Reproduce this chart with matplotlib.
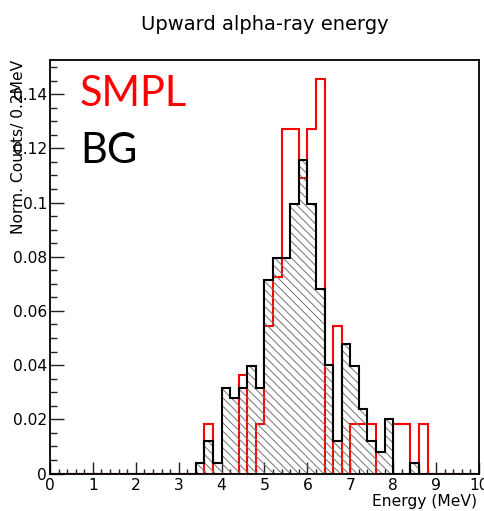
import numpy as np
import matplotlib
matplotlib.use("Agg")
import matplotlib.pyplot as plt
from matplotlib.ticker import MultipleLocator, FixedLocator, FixedFormatter

plt.rcParams['font.family'] = ['DejaVu Sans']
plt.rcParams['hatch.linewidth'] = 0.7

# ---- data: normalized counts per 0.2 MeV bin, 0-10 MeV (50 bins) ----
bin_edges = np.linspace(0.0, 10.0, 51)

smpl_values = [0, 0, 0, 0, 0, 0, 0, 0, 0, 0,
               0, 0, 0, 0, 0, 0, 0, 0, 0.0182, 0,
               0, 0, 0.0364, 0, 0.0182, 0.0545, 0.0727, 0.1273, 0.1273, 0.1091,
               0.1273, 0.1455, 0, 0.0545, 0, 0.0182, 0.0182, 0.0182, 0, 0,
               0.0182, 0.0182, 0, 0.0182, 0, 0, 0, 0, 0, 0]

bg_values = [0, 0, 0, 0, 0, 0, 0, 0, 0, 0,
             0, 0, 0, 0, 0, 0, 0, 0.004, 0.012, 0.004,
             0.0316, 0.0277, 0.0316, 0.0395, 0.0316, 0.0715, 0.0795, 0.0795, 0.0993, 0.1157,
             0.0993, 0.068, 0.040, 0.012, 0.0478, 0.0398, 0.0239, 0.012, 0.008, 0.020,
             0, 0, 0.004, 0, 0, 0, 0, 0, 0, 0]

x_major = [0, 1, 2, 3, 4, 5, 6, 7, 8, 9, 10]
x_labels = ["0", "1", "2", "3", "4", "5", "6", "7", "8", "9", "10"]
y_major = [0, 0.02, 0.04, 0.06, 0.08, 0.10, 0.12, 0.14]
y_labels = ["0", "0.02", "0.04", "0.06", "0.08", "0.1", "0.12", "0.14"]

W, H = 485, 511
fig = plt.figure(figsize=(W / 100, H / 100), dpi=100)
ax = fig.add_axes([50 / W, 1 - 473.5 / H, 429 / W, 413.5 / H])

# SMPL (drawn first, defines range)
ax.stairs(smpl_values, bin_edges, baseline=0, color="red", linewidth=1.5, zorder=2)
# BG hatched
ax.stairs(bg_values, bin_edges, baseline=0, fill=True, facecolor="none",
          edgecolor="0.45", hatch="\\\\\\\\", linewidth=0, zorder=3)
ax.stairs(bg_values, bin_edges, baseline=0, color="black", linewidth=1.5, zorder=4)

ax.set_xlim(0, 10)
ax.set_ylim(0, 0.1526)

ax.xaxis.set_major_locator(FixedLocator(x_major))
ax.xaxis.set_major_formatter(FixedFormatter(x_labels))
ax.xaxis.set_minor_locator(MultipleLocator(0.2))
ax.yaxis.set_major_locator(FixedLocator(y_major))
ax.yaxis.set_major_formatter(FixedFormatter(y_labels))
ax.yaxis.set_minor_locator(MultipleLocator(0.005))

ax.tick_params(axis="both", which="both", direction="in", top=False, right=False,
               width=1.0, color="#222222", labelsize=11.2)
ax.tick_params(axis="x", which="major", length=8.5, pad=3)
ax.tick_params(axis="x", which="minor", length=3.8)
ax.tick_params(axis="y", which="major", length=10, pad=2)
ax.tick_params(axis="y", which="minor", length=5)
for s in ax.spines.values():
    s.set_linewidth(1.3)
    s.set_zorder(6)

fig.text(264.5 / W, 1 - 30 / H, "Upward alpha-ray energy", ha="center", va="baseline",
         fontsize=14)
fig.text(477 / W, 1 - 506 / H, "Energy (MeV)", ha="right", va="baseline", fontsize=11.2)
fig.text(19 / W, 1 - 60 / H, "Norm. Counts/ 0.2MeV", ha="center", va="top",
         rotation=90, fontsize=11.2)

fig.text(80 / W, 1 - 106.5 / H, "SMPL", color="red", fontsize=30, family="Lato",
         va="baseline")
fig.text(80 / W, 1 - 163 / H, "BG", color="black", fontsize=30, family="Lato",
         va="baseline")

fig.savefig("out.png", dpi=100)
